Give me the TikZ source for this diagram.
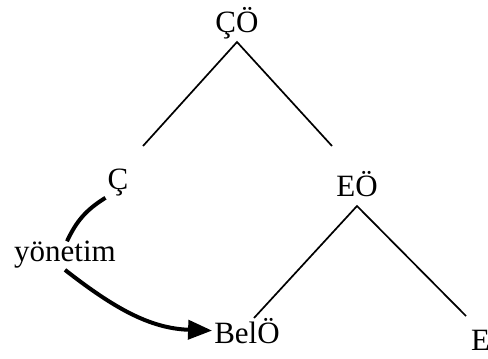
\documentclass[tikz,border=0pt]{standalone}
\usepackage{fontspec}
\setmainfont{Liberation Serif}
\usetikzlibrary{arrows.meta, calc}

\begin{document}
\begin{tikzpicture}[x=1pt, y=1pt,
  lbl/.style={font=\fontsize{31}{36}\selectfont, inner sep=2pt, anchor=base},
  branch/.style={line width=1.7pt},
  govern/.style={line width=4pt},
  govarrow/.style={govern, -{Triangle[length=24pt, width=19pt]}}]
  \useasboundingbox (0,0) rectangle (488,-359);

  % labels of the tree
  \node[lbl] (CO)   at (237,-32)  {ÇÖ};
  \node[lbl] (C)    at (118,-189) {Ç};
  \node[lbl] (EO)   at (357,-196) {EÖ};
  \node[lbl] (BelO) at (247,-343) {BelÖ};
  \node[lbl, anchor=base west] (Ebar) at (469,-350) {E\symbol{39}};
  \node[lbl] (yon)  at (65,-261)  {yönetim};

  % branches
  \coordinate (COfoot) at ($(CO.base)+(0,-10)$);
  \coordinate (EOfoot) at ($(EO.base)+(0,-10)$);
  \coordinate (Ctop)    at (143,-146);
  \coordinate (EOtop)   at (332,-146);
  \coordinate (BelOtop) at (254,-318);
  \coordinate (Ebartop) at (466,-316);
  \draw[branch] (Ctop) -- (COfoot) -- (EOtop);
  \draw[branch] (BelOtop) -- (EOfoot) -- (Ebartop);

  % government
  \draw[govern] (C.south west) to[out=212, in=65] ($(yon.north)+(2,-3)$);
  \draw[govarrow] (yon.south) to[out=-38, in=178, shorten <=8pt, shorten >=1pt] (BelO.west);
\end{tikzpicture}
\end{document}
